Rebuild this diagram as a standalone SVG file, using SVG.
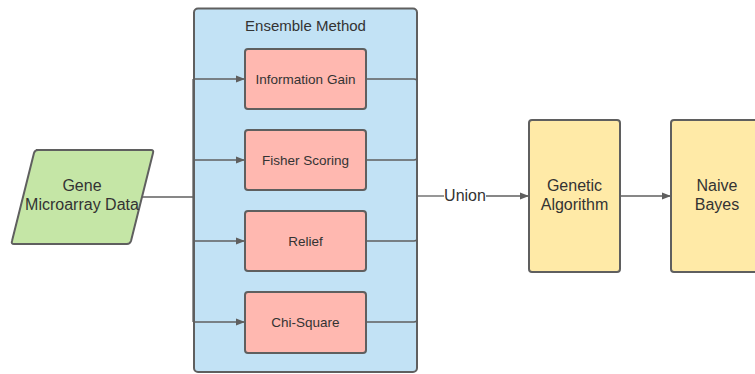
<svg xmlns="http://www.w3.org/2000/svg" width="755" height="374" viewBox="0 0 755 374">
  <defs>
    <style>
      .shape { stroke: #5f5f5f; stroke-width: 2; }
      .wire { fill: none; stroke: #5f5f5f; stroke-width: 1.3; }
      .lbl { font-family: "Liberation Sans", Arial, sans-serif; fill: #333333; text-anchor: middle; }
      .small { font-size: 13.5px; }
      .big { font-size: 16px; }
    </style>
    <marker id="arrow" viewBox="0 0 10 10" refX="10" refY="5" markerWidth="9" markerHeight="9" markerUnits="userSpaceOnUse" orient="auto">
      <path d="M0,1 L10,5 L0,9 z" fill="#5f5f5f"/>
    </marker>
  </defs>

  <rect width="755" height="374" fill="#ffffff"/>

  <!-- ensemble container -->
  <g id="ensemble">
    <rect class="shape" x="194" y="8.5" width="223" height="363.5" rx="4" fill="#c2e2f5"/>
    <text class="lbl small" x="305.5" y="31" style="font-size:15px">Ensemble Method</text>
  </g>

  <!-- connectors -->
  <g id="connectors">
    <!-- input into the fan-out trunk -->
    <path class="wire" d="M140,197 H193"/>
    <path class="wire" d="M193,79 V322"/>
    <path class="wire" marker-end="url(#arrow)" d="M193,79 H245"/>
    <path class="wire" marker-end="url(#arrow)" d="M193,160 H245"/>
    <path class="wire" marker-end="url(#arrow)" d="M193,241 H245"/>
    <path class="wire" marker-end="url(#arrow)" d="M193,322 H245"/>
    <!-- fan-in to union -->
    <path class="wire" d="M366,79 H414 Q417,79 417,82 V157 Q417,160 414,160 H366"/>
    <path class="wire" d="M417,160 V238 Q417,241 414,241 H366"/>
    <path class="wire" d="M417,241 V319 Q417,322 414,322 H366"/>
    <path class="wire" d="M417,196 H444"/>
    <path class="wire" marker-end="url(#arrow)" d="M486,196 H529"/>
    <text class="lbl big" x="465" y="201">Union</text>
    <!-- GA to classifier -->
    <path class="wire" marker-end="url(#arrow)" d="M620,196 H671"/>
  </g>

  <g id="gene-data">
    <path class="shape" d="M36,150 H151 Q154,150 153,153 L131,241 Q130,244 127,244 H14 Q11,244 12,241 L34,153 Q35,150 38,150 z" fill="#c5e6a6"/>
    <text class="lbl big" x="82" y="191">Gene</text>
    <text class="lbl big" x="82" y="210">Microarray Data</text>
  </g>

  <g id="info-gain">
    <rect class="shape" x="245" y="49" width="121" height="60" rx="3" fill="#ffb8b0"/>
    <text class="lbl small" x="305.5" y="83.5">Information Gain</text>
  </g>
  <g id="fisher">
    <rect class="shape" x="245" y="130" width="121" height="60" rx="3" fill="#ffb8b0"/>
    <text class="lbl small" x="305.5" y="164.5">Fisher Scoring</text>
  </g>
  <g id="relief">
    <rect class="shape" x="245" y="211" width="121" height="60" rx="3" fill="#ffb8b0"/>
    <text class="lbl small" x="305.5" y="245.5">Relief</text>
  </g>
  <g id="chi-square">
    <rect class="shape" x="245" y="292" width="121" height="61" rx="3" fill="#ffb8b0"/>
    <text class="lbl small" x="305.5" y="327">Chi-Square</text>
  </g>

  <g id="genetic-algorithm">
    <rect class="shape" x="529" y="120" width="91" height="152" rx="3" fill="#ffeaa7"/>
    <text class="lbl big" x="574.5" y="191">Genetic</text>
    <text class="lbl big" x="574.5" y="210">Algorithm</text>
  </g>

  <g id="naive-bayes">
    <rect class="shape" x="671" y="120" width="95" height="152" rx="3" fill="#ffeaa7"/>
    <text class="lbl big" x="717" y="191">Naive</text>
    <text class="lbl big" x="717" y="210">Bayes</text>
  </g>
</svg>
